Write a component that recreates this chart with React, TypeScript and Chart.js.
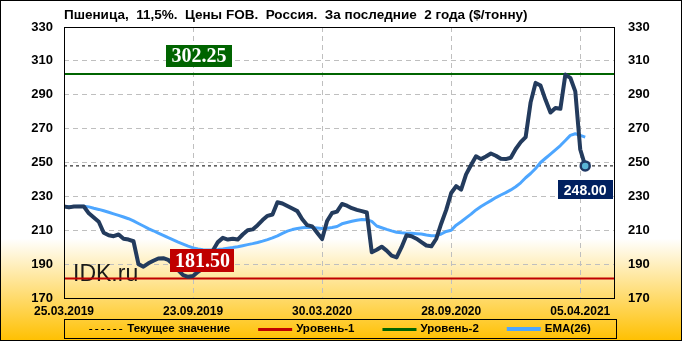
import React, { useEffect, useRef } from 'react';
import { Chart, registerables } from 'chart.js';

Chart.register(...registerables);

const titleText = 'Пшеница,  11,5%.  Цены FOB.  Россия.  За последние  2 года ($/тонну)';
const tickIndices = [0, 26, 52, 78, 104];
const tickLabels = ['25.03.2019', '23.09.2019', '30.03.2020', '28.09.2020', '05.04.2021'];

const priceValues = [
  224, 223.5, 224, 224, 224,
  220, 217.5, 215, 208.5, 207,
  206.5, 207.5, 205, 204.5, 203.5,
  190, 188.5, 190.5, 192, 193.3,
  193.5, 192.5, 190, 186.5, 183.5,
  182.5, 183, 185.5, 187.5, 192,
  198, 203, 205.5, 204.5, 205,
  204.5, 207.5, 210, 210.5, 213,
  216, 218.5, 219.3, 226.5, 225.8,
  224.3, 222.8, 221.3, 216.5, 213,
  212.3, 208.5, 204.8, 215.5, 220.2,
  221, 225.5, 224.5, 223, 222,
  221.3, 220.5, 197, 198.5, 200.3,
  198, 195, 194, 200, 207,
  206.5, 205, 203, 201, 200.5,
  205, 214, 222, 232, 236,
  234, 243, 248.5, 253.7, 252,
  253.5, 255.3, 254, 252.2, 252,
  252.8, 258, 262, 265, 285.5,
  297, 295.4, 287, 279.5, 282.2,
  281.7, 301.9, 300, 292, 257.7,
  248,
];

const emaValues = [
  224, 224, 224, 224.2, 224.2,
  223.8, 223, 222.3, 221.5, 220.6,
  219.7, 218.8, 217.8, 216.8, 215.5,
  214, 212.5, 211, 209.7, 208.3,
  207, 205.6, 204.3, 203, 201.8,
  200.6, 199.6, 198.9, 198.5, 198.4,
  198.5, 198.7, 199, 199.4, 199.8,
  200.3, 200.9, 201.5, 202.1, 202.8,
  203.6, 204.5, 205.5, 206.7, 208.2,
  209.5, 210.4, 211, 211.5, 211.7,
  211.6, 211.3, 211, 211.2, 211.6,
  212.2, 213.8, 214.6, 215.3, 215.9,
  216.3, 216.2, 215.2, 212.5, 211.5,
  210.5, 209.6, 208.8, 208.5, 208.3,
  208.2, 208, 207.8, 207.2, 206.7,
  206.9, 207.8, 209.3, 210, 213,
  215, 217.3, 219.5, 222, 224,
  225.8, 227.5, 229.3, 230.8, 232.2,
  233.8, 235.7, 238, 241, 243.5,
  246.5, 250, 252.5, 255, 257.5,
  260, 263, 266, 267, 266,
  265,
];

const currentValue = 248.0;
const level1 = 181.5;
const level2 = 302.25;
const seriesNames = ['Текущее значение', 'Уровень-1', 'Уровень-2', 'EMA(26)'];
const watermark = 'IDK.ru';
const xMax = 111;
const yMin = 170;
const yMax = 330;
const yStep = 20;

const COL_PRICE = '#233B5D';
const COL_EMA = '#4DA6FF';
const COL_L1 = '#C00000';
const COL_L2 = '#006400';
const COL_CUR = '#002060';

const SANS = '"Liberation Sans", Arial, sans-serif';
const SERIF = '"Liberation Serif", "Times New Roman", serif';

function hline(v: number) {
  return [{ x: 0, y: v }, { x: xMax, y: v }];
}

function drawBox(ctx: CanvasRenderingContext2D, text: string, cx: number, cy: number, w: number, h: number, bg: string, font: string) {
  ctx.save();
  ctx.fillStyle = bg;
  ctx.fillRect(Math.round(cx - w / 2), Math.round(cy - h / 2), w, h);
  ctx.fillStyle = '#FFFFFF';
  ctx.font = font;
  ctx.textAlign = 'center';
  ctx.textBaseline = 'middle';
  ctx.fillText(text, cx, cy + 1);
  ctx.restore();
}

const decorPlugin = {
  id: 'decor',
  beforeDraw(chart: any) {
    const ctx = chart.ctx as CanvasRenderingContext2D;
    const g = ctx.createLinearGradient(0, 0, 0, chart.height);
    g.addColorStop(0, '#FFFFFF');
    g.addColorStop(0.7, '#FFFFFF');
    g.addColorStop(1, '#FFC000');
    ctx.save();
    ctx.fillStyle = g;
    ctx.fillRect(0, 0, chart.width, chart.height);
    ctx.restore();
  },
  beforeDatasetsDraw(chart: any) {
    const ctx = chart.ctx as CanvasRenderingContext2D;
    const a = chart.chartArea;
    ctx.save();
    ctx.fillStyle = '#1A1A1A';
    ctx.font = `23px ${SANS}`;
    ctx.textAlign = 'left';
    ctx.textBaseline = 'alphabetic';
    ctx.fillText(watermark, a.left + 9, a.bottom - 17);
    ctx.restore();
  },
  afterDraw(chart: any) {
    const ctx = chart.ctx as CanvasRenderingContext2D;
    const a = chart.chartArea;
    const xs = chart.scales.x;
    const ys = chart.scales.y;
    ctx.save();
    ctx.strokeStyle = '#000';
    ctx.lineWidth = 1;
    ctx.strokeRect(Math.round(a.left) + 0.5, Math.round(a.top) + 0.5, Math.round(a.right - a.left) - 1, Math.round(a.bottom - a.top));
    ctx.strokeRect(0.5, 0.5, chart.width - 1, chart.height - 1);
    ctx.fillStyle = '#000';
    ctx.font = `bold 13.5px ${SANS}`;
    ctx.textAlign = 'left';
    ctx.textBaseline = 'middle';
    ctx.fillText(titleText, a.left, 15);
    ctx.restore();

    drawBox(ctx, level2.toFixed(2), xs.getPixelForValue(27.2), ys.getPixelForValue(level2) - 18.5, 66, 22, COL_L2, `bold 20px ${SERIF}`);
    drawBox(ctx, level1.toFixed(2), xs.getPixelForValue(27.9), ys.getPixelForValue(level1) - 18, 64, 23, COL_L1, `bold 20px ${SERIF}`);
    drawBox(ctx, currentValue.toFixed(2), xs.getPixelForValue(priceValues.length - 1), ys.getPixelForValue(currentValue) + 24, 55, 19, COL_CUR, `bold 14px ${SANS}`);

    ctx.save();
    const lx0 = Math.round(a.left);
    const lx1 = Math.round(a.right) + 1;
    const ly0 = 319;
    const ly1 = 338;
    ctx.strokeStyle = '#000';
    ctx.lineWidth = 1;
    ctx.strokeRect(lx0 + 0.5, ly0 + 0.5, lx1 - lx0, ly1 - ly0);
    ctx.font = `bold 11.5px ${SANS}`;
    ctx.textBaseline = 'middle';
    ctx.textAlign = 'left';
    const sample = 34;
    const sgap = 4;
    const gap = 28;
    const widths = seriesNames.map((n) => sample + sgap + ctx.measureText(n).width);
    const total = widths.reduce((s, w) => s + w, 0) + gap * (seriesNames.length - 1);
    let x = (lx0 + lx1) / 2 - total / 2;
    const cy = (ly0 + ly1) / 2 + 0.5;
    const styles = [
      { c: '#000', w: 1, d: [3, 3] },
      { c: COL_L1, w: 3, d: [] },
      { c: COL_L2, w: 3, d: [] },
      { c: COL_EMA, w: 4, d: [] },
    ];
    seriesNames.forEach((n, i) => {
      const st = styles[i];
      ctx.beginPath();
      ctx.strokeStyle = st.c;
      ctx.lineWidth = st.w;
      ctx.setLineDash(st.d);
      const yy = st.w % 2 === 1 ? Math.round(cy) + 0.5 : Math.round(cy);
      ctx.moveTo(x, yy);
      ctx.lineTo(x + sample, yy);
      ctx.stroke();
      ctx.setLineDash([]);
      ctx.fillStyle = '#000';
      ctx.fillText(n, x + sample + sgap, cy);
      x += widths[i] + gap;
    });
    ctx.restore();
  },
};

export default function App() {
  const ref = useRef<HTMLCanvasElement | null>(null);
  useEffect(() => {
    document.body.style.margin = '0';
    const canvas = ref.current;
    if (!canvas) return;
    const lastIdx = priceValues.length - 1;
    const tickFont = { family: SANS, size: 13, weight: 'bold' as const };
    const chart = new Chart(canvas, {
      type: 'line',
      data: {
        datasets: [
          {
            label: 'price',
            data: priceValues.map((v, i) => ({ x: i, y: v })),
            borderColor: COL_PRICE,
            borderWidth: 4,
            tension: 0,
            borderJoinStyle: 'round',
            borderCapStyle: 'round',
            pointRadius: (c: any) => (c.dataIndex === lastIdx ? 4.5 : 0),
            pointBackgroundColor: '#5AB4D6',
            pointBorderColor: '#1F3864',
            pointBorderWidth: 2.5,
            yAxisID: 'y',
          },
          {
            label: seriesNames[3],
            data: emaValues.map((v, i) => ({ x: i, y: v })),
            borderColor: COL_EMA,
            borderWidth: 3,
            tension: 0,
            borderJoinStyle: 'round',
            pointRadius: 0,
            yAxisID: 'y',
          },
          {
            label: seriesNames[0],
            data: hline(currentValue),
            borderColor: '#000',
            borderWidth: 1,
            borderDash: [3, 3],
            pointRadius: 0,
            yAxisID: 'y',
          },
          {
            label: seriesNames[1],
            data: hline(level1),
            borderColor: COL_L1,
            borderWidth: 2,
            pointRadius: 0,
            yAxisID: 'y',
          },
          {
            label: seriesNames[2],
            data: hline(level2),
            borderColor: COL_L2,
            borderWidth: 2,
            pointRadius: 0,
            yAxisID: 'y',
          },
        ],
      },
      options: {
        responsive: false,
        animation: false,
        devicePixelRatio: 1,
        layout: { padding: { top: 27, left: 0, right: 0, bottom: 0 } },
        plugins: {
          legend: { display: false },
          title: { display: false },
          tooltip: { enabled: false },
        },
        scales: {
          x: {
            type: 'linear',
            min: 0,
            max: xMax,
            afterBuildTicks: (s: any) => {
              s.ticks = tickIndices.map((v) => ({ value: v }));
            },
            afterFit: (s: any) => {
              s.height = 43;
            },
            ticks: {
              autoSkip: false,
              maxRotation: 0,
              padding: 6,
              color: '#000',
              font: { family: SANS, size: 12, weight: 'bold' },
              callback: (v: any) => {
                const k = tickIndices.indexOf(Number(v));
                return k >= 0 ? tickLabels[k] : '';
              },
            },
            grid: { color: '#BFBFBF', drawTicks: false, lineWidth: 1 },
            border: { display: false, dash: [5, 4] },
          },
          y: {
            type: 'linear',
            position: 'left',
            min: yMin,
            max: yMax,
            afterFit: (s: any) => {
              s.width = 64;
            },
            ticks: { stepSize: yStep, padding: 11, color: '#000', font: tickFont },
            grid: { color: '#BFBFBF', drawTicks: false, lineWidth: 1 },
            border: { display: false, dash: [5, 4] },
          },
          y2: {
            type: 'linear',
            position: 'right',
            min: yMin,
            max: yMax,
            afterFit: (s: any) => {
              s.width = 67;
            },
            ticks: { stepSize: yStep, padding: 13, color: '#000', font: tickFont },
            grid: { display: false, drawTicks: false },
            border: { display: false },
          },
        },
      },
      plugins: [decorPlugin],
    } as any);
    return () => chart.destroy();
  }, []);
  return (
    <div style={{ width: 682, height: 341 }}>
      <canvas ref={ref} width={682} height={341} style={{ display: 'block' }} />
    </div>
  );
}
